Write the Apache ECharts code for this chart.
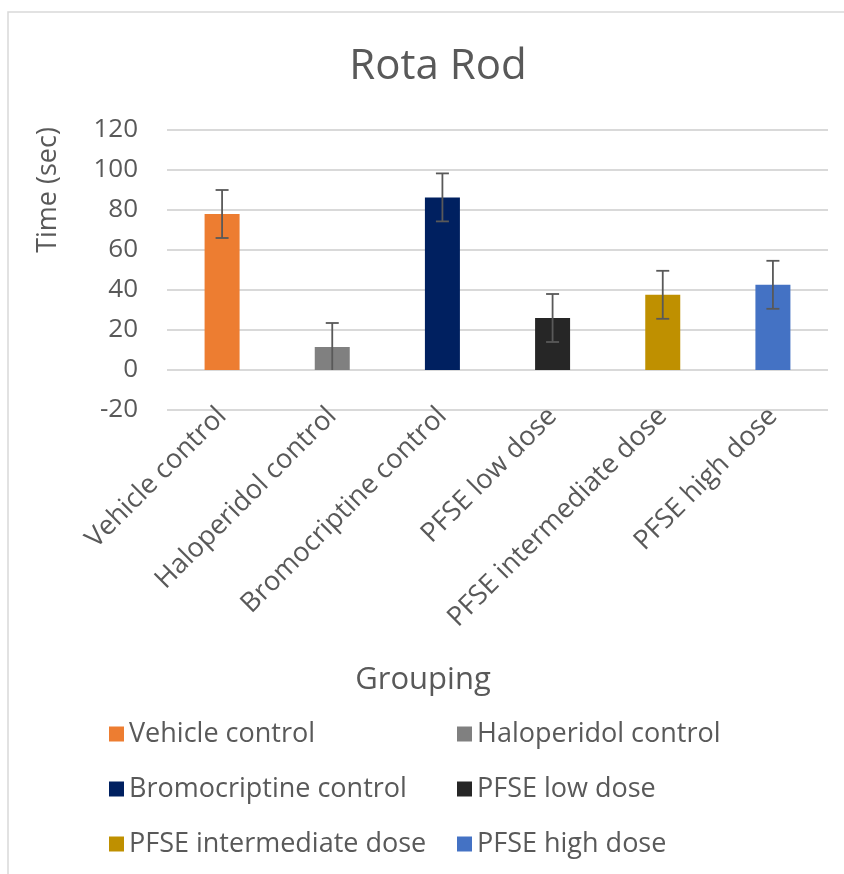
<!DOCTYPE html>
<html>
<head>
<meta charset="utf-8">
<title>Rota Rod</title>
<script src="https://cdn.jsdelivr.net/npm/echarts@6/dist/echarts.min.js"></script>
<style>
    html, body { margin: 0; padding: 0; background: #ffffff; }
    #chart { width: 844px; height: 874px; }
</style>
</head>
<body>
<div id="chart"></div>
<script>
const groups = [
    "Vehicle control",
    "Haloperidol control",
    "Bromocriptine control",
    "PFSE low dose",
    "PFSE intermediate dose",
    "PFSE high dose"
];
const times = [78, 11.5, 86.3, 26, 37.6, 42.6];
const errors = [12, 12, 12, 12, 12, 12];
const colors = ["#ed7d31", "#808080", "#002060", "#262626", "#bf9000", "#4472c4"];
const yTicks = [-20, 0, 20, 40, 60, 80, 100, 120];

const FONT = "Open Sans";
const TEXT_COLOR = "#595959";

const chart = echarts.init(document.getElementById("chart"));

// one series per group so each gets its own legend entry; they overlap on the category
const barSeries = groups.map((name, i) => ({
    name: name,
    type: "bar",
    barWidth: 35,
    barGap: "-100%",
    itemStyle: { color: colors[i] },
    data: groups.map((g, j) => (j === i ? times[i] : "-")),
    z: 2
}));

const errorData = times.map((v, i) => [i, v - errors[i], v + errors[i]]);

const errorSeries = {
    type: "custom",
    name: "error",
    data: errorData,
    z: 5,
    renderItem: (params, api) => {
        const x = api.value(0);
        let low = api.value(1);
        const high = api.value(2);
        const capLow = low > 0;
        if (!capLow) low = 0;
        const top = api.coord([x, high]);
        const bottom = api.coord([x, low]);
        const half = 6.5;
        const style = { stroke: "#595959", lineWidth: 1.8 };
        const children = [
            { type: "line", shape: { x1: top[0], y1: top[1], x2: bottom[0], y2: bottom[1] }, style: style },
            { type: "line", shape: { x1: top[0] - half, y1: top[1], x2: top[0] + half, y2: top[1] }, style: style }
        ];
        if (capLow) {
            children.push({ type: "line", shape: { x1: bottom[0] - half, y1: bottom[1], x2: bottom[0] + half, y2: bottom[1] }, style: style });
        }
        return { type: "group", children: children };
    }
};

const legendText = {
    color: TEXT_COLOR,
    fontFamily: FONT,
    fontSize: 27,
    lineHeight: 30
};

chart.setOption({
    animation: false,
    title: {
        text: "Rota Rod",
        left: 433,
        top: 41,
        textAlign: "center",
        textStyle: {
            color: TEXT_COLOR,
            fontFamily: FONT,
            fontSize: 42,
            fontWeight: "normal"
        }
    },
    grid: {
        left: 167,
        right: 16,
        top: 130,
        bottom: 464,
        containLabel: false
    },
    legend: [
        {
            data: [groups[0], groups[2], groups[4]],
            orient: "vertical",
            left: 104,
            top: 714,
            itemWidth: 15,
            itemHeight: 15,
            itemGap: 25,
            icon: "rect",
            textStyle: legendText
        },
        {
            data: [groups[1], groups[3], groups[5]],
            orient: "vertical",
            left: 452,
            top: 714,
            itemWidth: 15,
            itemHeight: 15,
            itemGap: 25,
            icon: "rect",
            textStyle: legendText
        }
    ],
    xAxis: {
        type: "category",
        data: groups,
        axisLine: { show: false, onZero: false },
        axisTick: { show: false },
        axisLabel: {
            rotate: 45,
            margin: 2,
            interval: 0,
            color: TEXT_COLOR,
            fontFamily: FONT,
            fontSize: 27
        },
        splitLine: { show: false }
    },
    yAxis: {
        type: "value",
        min: yTicks[0],
        max: yTicks[yTicks.length - 1],
        interval: 20,
        axisLine: { show: false },
        axisTick: { show: false },
        axisLabel: {
            margin: 29,
            color: TEXT_COLOR,
            fontFamily: FONT,
            fontSize: 26
        },
        splitLine: {
            lineStyle: { color: "#d9d9d9", width: 2 }
        }
    },
    graphic: [
        {
            type: "rect",
            shape: { x: 8, y: 12, width: 900, height: 900 },
            style: { fill: "none", stroke: "#d9d9d9", lineWidth: 1.5 },
            silent: true
        },
        {
            type: "text",
            x: 48,
            y: 190,
            rotation: Math.PI / 2,
            style: {
                text: "Time (sec)",
                fill: TEXT_COLOR,
                font: "27px 'Open Sans'",
                align: "center",
                verticalAlign: "middle"
            }
        },
        {
            type: "text",
            x: 423,
            y: 680,
            style: {
                text: "Grouping",
                fill: TEXT_COLOR,
                font: "31px 'Open Sans'",
                align: "center",
                verticalAlign: "middle"
            }
        }
    ],
    series: barSeries.concat([errorSeries])
});
</script>
</body>
</html>
